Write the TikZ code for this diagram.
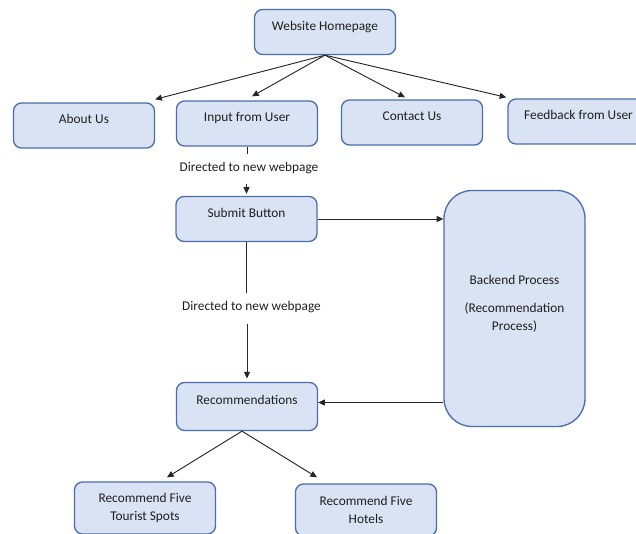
\documentclass[tikz,border=0pt]{standalone}
\usepackage{fontspec}
\setmainfont{Carlito}
\usepackage{xcolor}
\usepackage{tikz}
\usetikzlibrary{positioning,calc,arrows.meta}

\definecolor{boxfill}{HTML}{DAE3F3}
\definecolor{boxline}{HTML}{4A6DAF}
\definecolor{txtgray}{HTML}{1F1F1F}

\tikzset{
  block/.style={draw=boxline, fill=boxfill, line width=1pt, rounded corners=6pt,
    minimum width=141*0.75pt, minimum height=45*0.75pt, text=txtgray,
    font=\fontsize{10}{13.5}\selectfont, align=center, inner sep=2pt},
  topline/.style={text height=7pt, text depth=9.6pt},
  note/.style={text=txtgray, font=\fontsize{10}{13.5}\selectfont, inner sep=2pt},
  link/.style={-{Triangle[length=5pt,width=4.5pt]}, line width=0.7pt, black!85},
  stem/.style={line width=0.7pt, black!85},
}

\begin{document}
\begin{tikzpicture}[x=0.75pt, y=-0.75pt]
% canvas (pixels, y pointing down)
\clip (0,0) rectangle (636,533);

% --- TOP ROW ---
\node[block, topline] (home) at (325,32) {Website Homepage};
\node[block, topline] (about) at (84,125.5) {About Us};
\node[block, topline] (input) at (247,123.5) {Input from User};
\node[block, topline] (contact) at (412,122.5) {Contact Us};
\node[block, topline] (feedback) at (578.5,121.5) {Feedback from User};

% --- MIDDLE ---
\node[note] (dir1) at (249,168) {Directed to new webpage};
\node[block, topline] (submit) at (246.5,219) {Submit Button};
\node[note] (dir2) at (251.5,307) {Directed to new webpage};
\node[block, minimum height=236*0.75pt, rounded corners=21pt,
      text height=7pt, text depth=43.4pt] (backend) at (514.5,308.5)
  {\begin{tabular}[t]{@{}c@{}}Backend Process\\[7.5pt](Recommendation\\Process)\end{tabular}};

% --- BOTTOM ---
\node[block, topline, minimum height=48*0.75pt] (recs) at (247,406.5) {Recommendations};
\node[block, minimum height=52*0.75pt] (tourist) at (145,508) {Recommend Five\\Tourist Spots};
\node[block, minimum height=52*0.75pt] (hotels) at (366,510) {Recommend Five\\Hotels};

% homepage to the four pages
\draw[link] (home.south) -- ($(about.north east)+(0,-3)$);
\draw[link] (home.south) -- ($(input.north)+(5,-4)$);
\draw[link] (home.south) -- ($(contact.north)+(-7,-2)$);
\draw[link] (home.south) -- ($(feedback.north west)+(-1,-1)$);

% input -> submit
\draw[stem] (input.south) -- ($(input.south |- dir1.north)+(0,-5)$);
\draw[link, shorten >=1.5pt] ($(submit.north |- dir1.south)+(0,7)$) -- (submit.north);

% submit -> recommendations
\draw[stem] (submit.south) -- ($(submit.south |- dir2.north)+(0,-5)$);
\draw[link, shorten >=2.5pt] ($(recs.north |- dir2.south)+(0,8)$) -- (recs.north);

% backend process
\draw[link] (submit.east) -- (backend.west |- submit.east);
\coordinate (back) at ($(recs.east)+(0,-4)$);
\draw[link] (backend.west |- back) -- (back);

% recommendations to results
\draw[link] ($(recs.south)+(-5,0)$) -- ($(tourist.north)+(22,-4)$);
\draw[link] ($(recs.south)+(-5,0)$) -- ($(hotels.north)+(-49,-6)$);

\end{tikzpicture}
\end{document}
